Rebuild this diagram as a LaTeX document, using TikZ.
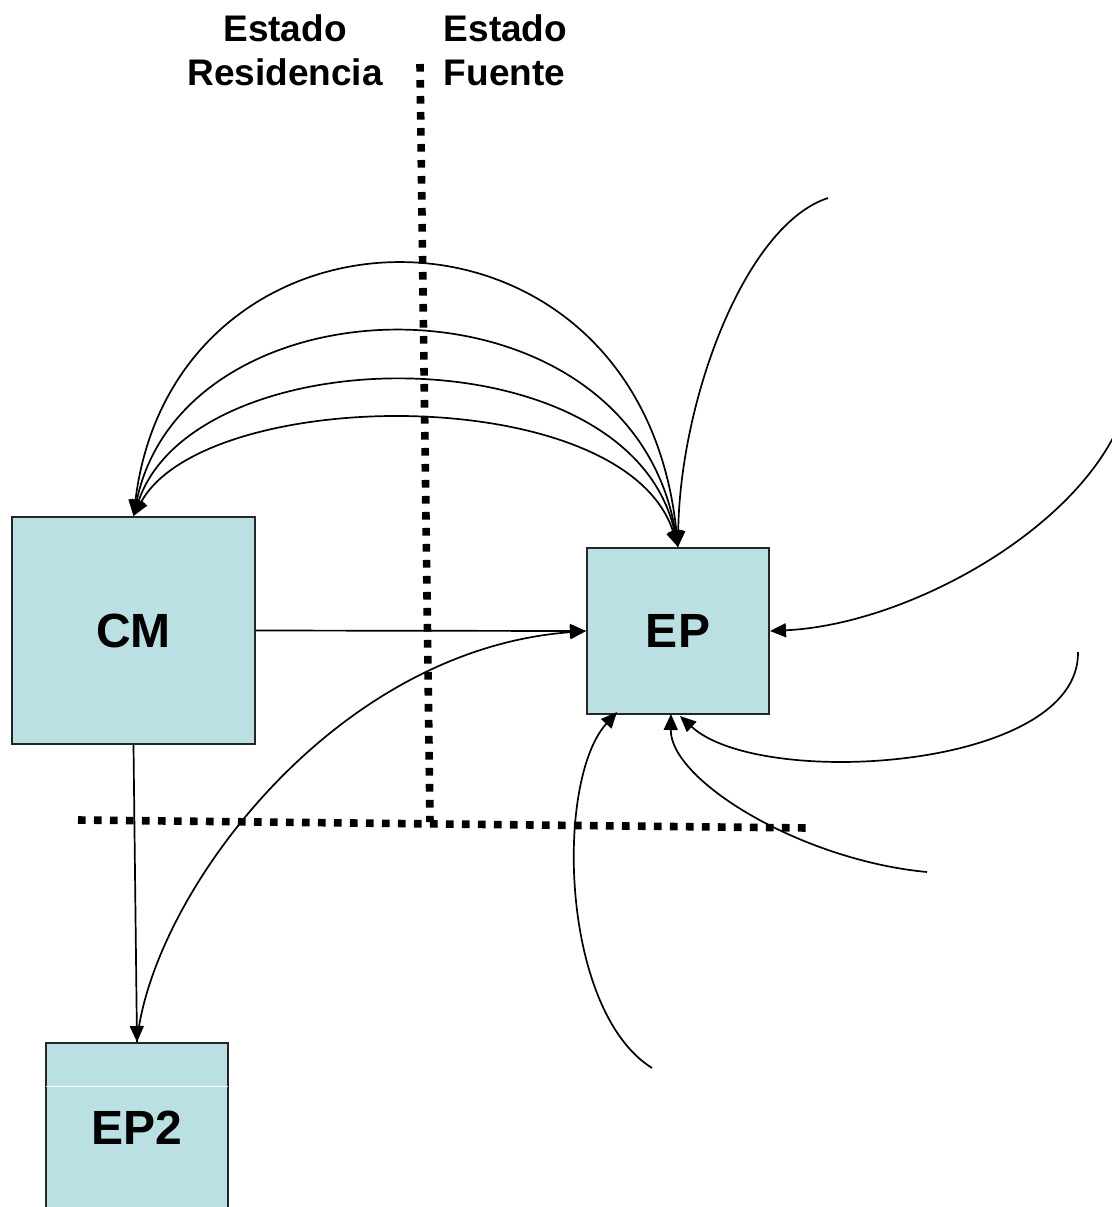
\documentclass[tikz,border=0pt]{standalone}
\usepackage{fontspec}
\setmainfont{Liberation Sans}
\usetikzlibrary{arrows.meta,positioning}
\definecolor{boxblue}{HTML}{BBE0E3}

\begin{document}
\begin{tikzpicture}[
    % 定義樣式
    x=0.5pt, y=-0.5pt,
    >={Triangle[length=8pt,width=7pt]},
    line width=0.85pt,
    box/.style={draw=black!85, line width=1pt, fill=boxblue, inner sep=0pt,
        font=\fontsize{24}{28}\selectfont\bfseries},
    annot/.style={inner sep=0pt, font=\fontsize{18.5}{22}\selectfont\bfseries},
    frontier/.style={line width=3.8pt, dash pattern=on 3.8pt off 4.2pt},
    link/.style={->}
]
    \useasboundingbox (0,0) rectangle (1112,1207);

    % --- 1. 方塊 ---
    \node[box, minimum width=121.5pt, minimum height=113.5pt] (CM) at (133.5,630.5) {CM};
    \node[box, minimum width=91pt, minimum height=83pt] (EP) at (678,631) {EP};
    \node[box, minimum width=91pt, minimum height=85pt] (EP2) at (137,1128) {EP2};
    \draw[white, line width=0.5pt] ([xshift=0.6pt,yshift=-22pt]EP2.north west)
        -- ([xshift=-0.6pt,yshift=-22pt]EP2.north east);

    % --- 2. 標籤 ---
    \node[annot, align=center] (res) at (285,50) {Estado\\Residencia};
    \node[annot, align=left, anchor=west] (fue) at (443,50) {Estado\\Fuente};

    % --- 3. 邊界線 ---
    \coordinate (vtop) at (420,64);
    \coordinate (vbot) at (430,822);
    \coordinate (hleft) at (78,820);
    \coordinate (hright) at (808,828);
    \draw[frontier] (vtop) -- (vbot);
    \draw[frontier] (hleft) -- (hright);

    % --- 4. 連接線 ---
    \draw[link] (CM.east) -- (EP.west);
    \draw[link] (CM.south) -- (EP2.north);
    \draw[link] (EP2.north) .. controls (150,900) and (330,650) .. (EP.west);

    % CM <-> EP 弧線
    \foreach \xa/\ya/\xb/\yb in {175/180/640/175, 185/270/630/265, 195/335/630/330, 205/385/625/380}
        \draw[<->] (CM.north) .. controls (\xa,\ya) and (\xb,\yb) .. (EP.north);

    % 外部來的箭頭
    \coordinate (s1) at (828,198);
    \coordinate (s2) at (1114,436);
    \coordinate (s3) at (1078,652);
    \coordinate (s4) at (927,872);
    \coordinate (s5) at (652,1068);
    \draw[link] (s1) .. controls (745,225) and (680,400) .. (EP.north);
    \draw[link] (s2) .. controls (1060,540) and (900,625) .. (EP.east);
    \draw[link] (s3) .. controls (1080,770) and (760,790) .. (680,716);
    \draw[link] (s4) .. controls (800,860) and (670,780) .. (671,714);
    \draw[link] (s5) .. controls (560,1010) and (555,780) .. (617,712);

\end{tikzpicture}
\end{document}
